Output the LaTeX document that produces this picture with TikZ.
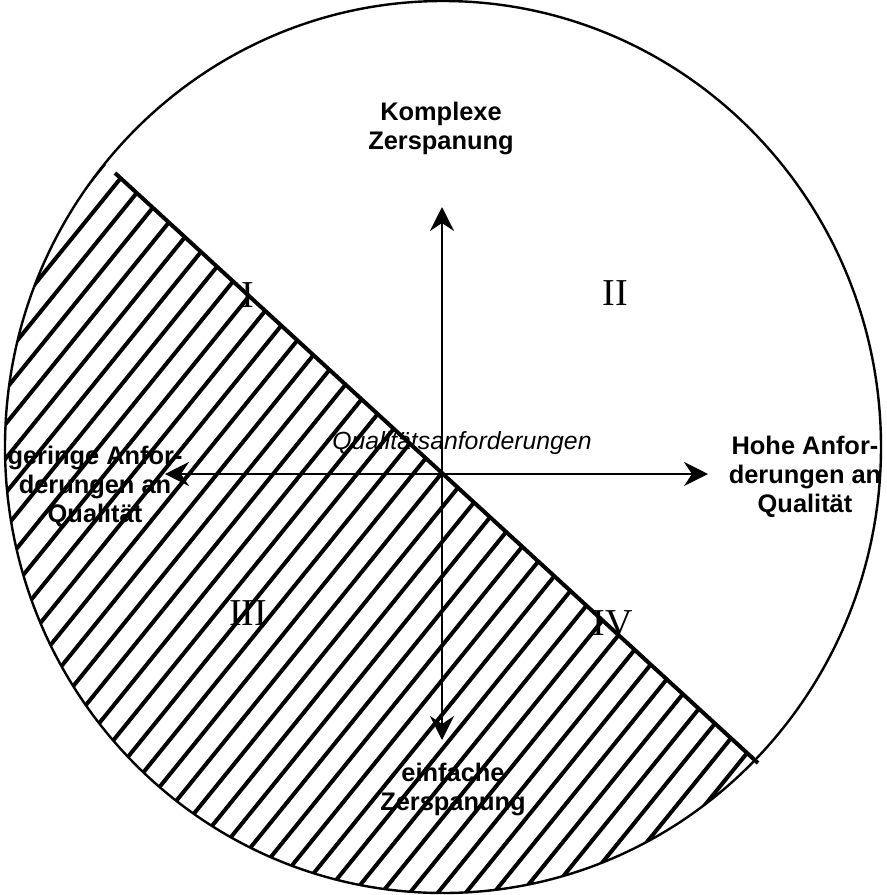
\documentclass[tikz,border=0pt]{standalone}
\usepackage{fontspec}
\setmainfont{Liberation Sans}
\newfontfamily\roemisch{Liberation Serif}
\usetikzlibrary{arrows.meta, positioning}

\begin{document}
\begin{tikzpicture}[x=0.5pt, y=-0.5pt, >={Stealth[length=12pt, width=12pt, inset=4pt]},
    beschriftung/.style={font=\bfseries\fontsize{12.7}{14.5}\selectfont, align=center, inner sep=0pt},
    quadrant/.style={font=\roemisch\fontsize{19}{19}\selectfont, inner sep=0pt}]
    \useasboundingbox (0,0) rectangle (887,895);

    % Schraffur unterhalb der Diagonale
    \begin{scope}
        \clip (443,447) ellipse [x radius=438, y radius=446];
        \clip (85,145.5) -- (800,801.7) -- (800,900) -- (-10,900) -- (-10,145.5) -- cycle;
        \foreach \x in {-492,-464,...,820} {
            \draw[line width=2pt] (\x,900) -- ++(810,-1000);
        }
    \end{scope}

    % Kreis
    \draw[line width=1.2pt] (443,447) ellipse [x radius=438, y radius=446];

    % Diagonale
    \coordinate (d1) at (115,173);
    \coordinate (d2) at (758,763);
    \draw[line width=2pt] (d1) -- (d2);

    % Achsen
    \coordinate (oben) at (442,207);
    \coordinate (unten) at (442,740);
    \coordinate (links) at (165,474);
    \coordinate (rechts) at (708,474);
    \draw[<->, line width=1pt] (unten) -- (oben);
    \draw[<->, line width=1pt] (links) -- (rechts);

    % Beschriftungen
    \node[beschriftung] (komplex) at (441,128) {Komplexe\\Zerspanung};
    \node[beschriftung] (einfach) at (453,789) {einfache\\Zerspanung};
    \node[beschriftung] (hoch) at (805,477) {Hohe Anfor-\\derungen an\\Qualität};
    \node[beschriftung] (gering) at (95,487) {geringe Anfor-\\derungen an\\Qualität};
    \node[font=\itshape\fontsize{12.4}{14}\selectfont, inner sep=0pt] (qa) at (462,443) {Qualitätsanforderungen};

    % Quadranten
    \node[quadrant] (q1) at (248,295) {I};
    \node[quadrant] (q2) at (615,293) {II};
    \node[quadrant] (q3) at (248,613) {III};
    \node[quadrant] (q4) at (613,623) {IV};
\end{tikzpicture}
\end{document}
